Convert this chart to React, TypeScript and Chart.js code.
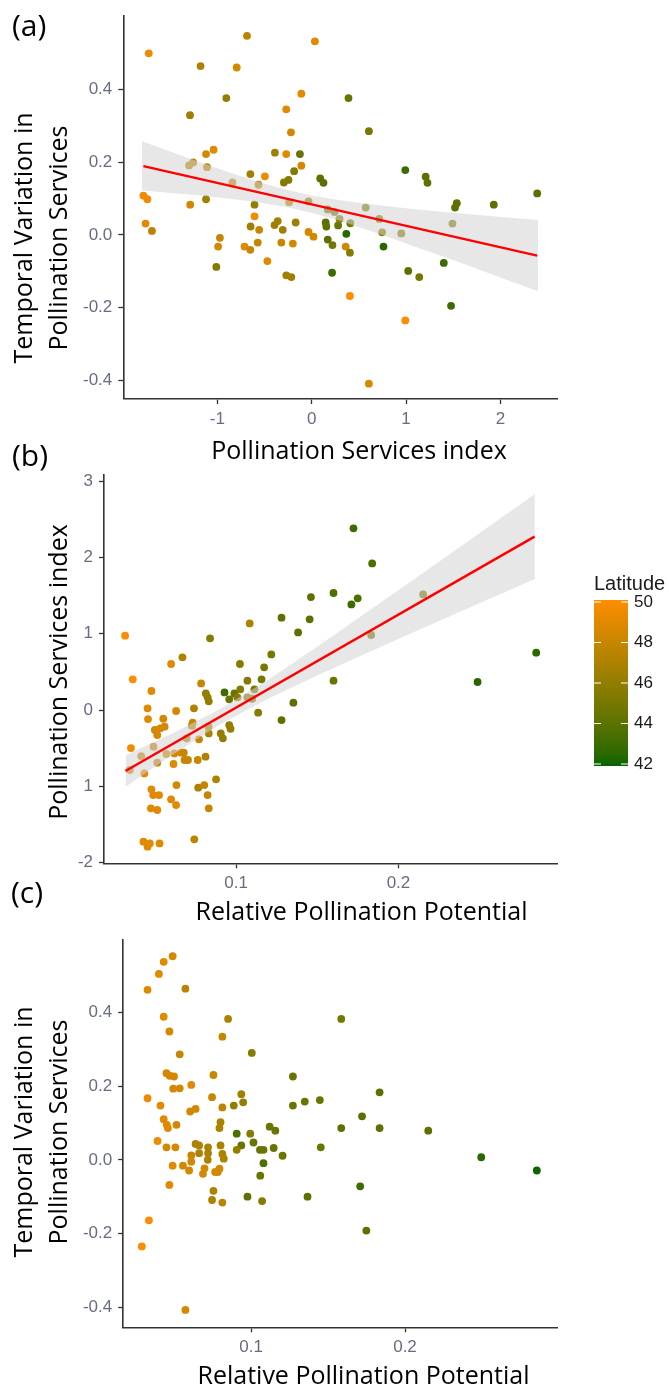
import React, { useEffect, useRef } from "react";
import { Chart, registerables } from "chart.js";

Chart.register(...registerables);

const PAGE_W = 669;
const PAGE_H = 1387;

// ---------------- Panel (a): Pollination Services index vs Temporal Variation ----------------
const aPSI = [
  -1.727, -0.686, 0.034, -1.178, -0.795, -0.905, -0.11, 0.39, -1.29, -0.27,
  -0.22, 0.606, -1.12, -1.04, -0.39, -0.27, -0.125, 0.992, 1.208, 1.227,
  -1.3, -1.257, -1.11, -0.11, -0.186, -0.65, -0.496, -0.84, -0.564, -0.295,
  -0.246, 0.09, 0.125, 2.39, 1.538, 1.519, 1.93, -1.784, -1.742, -1.12,
  -1.288, -0.606, -0.239, -0.034, 0.572, -0.606, 0.17, 0.242, -1.761, -1.693,
  -0.648, -0.557, -0.394, -0.36, -0.307, -0.17, 0.148, 0.155, 0.28, 0.295,
  0.367, 0.409, 0.716, 0.746, 0.95, 1.492, -0.034, 0.019, -0.973, -0.992,
  -0.712, -0.651, -0.572, -0.322, -0.2, 0.17, 0.22, 0.36, 0.405, 0.761,
  -0.47, -1.011, -0.269, -0.216, 0.216, 1.023, 1.14, 1.4, 0.405, 1.477,
  0.992, 0.606,
];
const aTV = [
  0.499, 0.547, 0.532, 0.464, 0.46, 0.376, 0.388, 0.376, 0.329, 0.345,
  0.282, 0.285, 0.222, 0.234, 0.226, 0.222, 0.222, 0.178, 0.16, 0.143,
  0.191, 0.199, 0.186, 0.19, 0.175, 0.167, 0.161, 0.144, 0.138, 0.144,
  0.151, 0.155, 0.143, 0.114, 0.087, 0.075, 0.083, 0.108, 0.098, 0.098,
  0.083, 0.083, 0.09, 0.092, 0.075, 0.051, 0.07, 0.063, 0.031, 0.011,
  0.023, 0.014, 0.027, 0.038, 0.014, 0.034, 0.034, 0.023, 0.026, 0.044,
  0.003, 0.032, 0.044, 0.007, 0.004, 0.031, 0.008, -0.005, -0.008, -0.032,
  -0.032, -0.041, -0.021, -0.021, -0.024, -0.013, -0.028, -0.032, -0.049, -0.032,
  -0.072, -0.088, -0.111, -0.116, -0.104, -0.099, -0.116, -0.077, -0.168, -0.195,
  -0.235, -0.409,
];
const aLat = [
  49.5, 47.5, 49, 47, 48.5, 46, 49, 44.5, 46.5, 49,
  48.5, 45, 48.5, 49, 46.5, 49, 44.5, 43, 44, 44,
  47.5, 47.5, 47.5, 48.5, 45.5, 46.5, 49.5, 48, 47.5, 45.5,
  45.5, 44, 44, 44, 44, 44, 44, 49.5, 49.5, 46.5,
  48.5, 46, 47.5, 46, 45.5, 49.5, 45, 45, 49, 47.5,
  46.5, 48, 46.5, 46.5, 46.5, 46.5, 44, 44, 44.5, 45.5,
  42.5, 45, 45.5, 45.5, 45.5, 45.5, 48.5, 48.5, 48, 48.5,
  49, 48, 48, 48, 48.5, 44, 45, 48.5, 45.5, 42.5,
  49, 45.5, 46.5, 46.5, 43, 44, 45, 43, 50, 43,
  50, 48.5,
];
const aFitX = [-1.784, 2.39];
const aFitY = [0.189, -0.057];
const aBandX = [-1.8, -1.5, -1.2, -0.9, -0.6, -0.3, 0, 0.3, 0.6, 0.9, 1.2, 1.5, 1.8, 2.1, 2.4];
const aBandHi = [0.257, 0.229, 0.201, 0.174, 0.149, 0.126, 0.108, 0.095, 0.085, 0.076, 0.068, 0.061, 0.054, 0.047, 0.041];
const aBandLo = [0.123, 0.115, 0.109, 0.1, 0.091, 0.078, 0.061, 0.039, 0.013, -0.014, -0.042, -0.069, -0.098, -0.127, -0.155];
const aXTicks = [-1, 0, 1, 2];
const aYTicks = [-0.4, -0.2, 0, 0.2, 0.4];

// ---------------- Panel (b): Relative Pollination Potential vs Pollination Services index ----------------
const bRPP = [
  0.0317, 0.0364, 0.0353, 0.0346, 0.0416, 0.0435, 0.0455, 0.0458, 0.0479, 0.0492,
  0.05, 0.0515, 0.0534, 0.0552, 0.056, 0.0515, 0.0479, 0.049, 0.0526, 0.0476,
  0.0515, 0.043, 0.0455, 0.0469, 0.0529, 0.06, 0.0631, 0.0633, 0.0615, 0.0571,
  0.06, 0.0631, 0.067, 0.062, 0.0662, 0.0678, 0.0683, 0.0704, 0.0696, 0.0728,
  0.0733, 0.0741, 0.0743, 0.0764, 0.0772, 0.0767, 0.0785, 0.0804, 0.0812, 0.0814,
  0.0825, 0.0832, 0.0825, 0.0832, 0.0832, 0.083, 0.084, 0.0877, 0.0906, 0.0919,
  0.0929, 0.0958, 0.0958, 0.0966, 0.099, 0.1008, 0.1024, 0.1026, 0.107, 0.1084,
  0.107, 0.1099, 0.1113, 0.1136, 0.1157, 0.1173, 0.1217, 0.128, 0.128, 0.1353,
  0.1382, 0.1453, 0.1461, 0.16, 0.16, 0.171, 0.1749, 0.1723, 0.1838, 0.1832,
  0.2152, 0.2487, 0.2848,
];
const bPSI = [
  0.974, 0.402, -0.498, -0.786, -0.603, -0.83, 0.022, -0.118, 0.249, -0.48,
  -0.262, -0.328, -0.24, -0.114, -0.218, -0.69, -1.039, -1.114, -1.114, -1.288,
  -1.31, -1.725, -1.79, -1.747, -1.747, -1.17, -1.245, -0.983, -0.707, -0.576,
  0.603, -0.013, 0.69, -0.568, -0.559, -0.559, -0.655, -0.655, -0.371, -0.205,
  -0.166, 0.022, -1.694, -0.655, -0.384, -1.017, 0.349, -0.983, -0.611, 0.218,
  0.166, 0.114, -1.114, -1.288, -0.306, -0.218, 0.939, -0.908, -0.306, -0.371,
  0.231, 0.14, -0.197, -0.245, 0.218, 0.166, 0.603, 0.271, 0.384, 1.135,
  0.166, 0.148, 0.271, -0.035, 0.402, 0.559, 0.729, 1.21, -0.131, 0.096,
  1.017, 1.188, 1.48, 1.533, 0.384, 1.384, 1.463, 2.38, 1.921, 0.983,
  1.515, 0.367, 0.751,
];
const bLat = [
  50, 50, 49.5, 48, 48, 49, 49, 49, 49, 48,
  48.5, 48.5, 48.5, 48.5, 48.5, 48, 49, 49, 49, 49,
  49, 49, 49, 49, 49, 49, 49, 48.5, 49, 48.5,
  49, 48.5, 47, 48.5, 48.5, 48, 48, 48, 47.5, 47.5,
  48, 47, 47.5, 48, 48, 47, 48, 48, 47, 46,
  46, 46, 48, 48, 47, 47, 45.5, 47, 46, 46,
  43, 44.5, 46, 46, 44.5, 45.5, 45.5, 45.5, 45.5, 47,
  45.5, 45.5, 45, 45.5, 45, 45, 45, 44, 44, 44,
  44, 44, 44, 43.5, 44.5, 43, 43.5, 43, 43.5, 45,
  45, 42.5, 42.5,
];
const bFitX = [0.0319, 0.2838];
const bFitY = [-0.799, 2.271];
const bBandX = [0.032, 0.06, 0.09, 0.12, 0.15, 0.18, 0.21, 0.24, 0.284];
const bBandHi = [-0.591, -0.314, 0.011, 0.399, 0.83, 1.273, 1.72, 2.17, 2.83];
const bBandLo = [-1.005, -0.598, -0.191, 0.151, 0.452, 0.741, 1.024, 1.306, 1.718];
const bXTicks = [0.1, 0.2];
const bYTicks = [-2, -1, 0, 1, 2, 3];

// ---------------- Panel (c): Relative Pollination Potential vs Temporal Variation ----------------
const cRPP = [
  0.0491, 0.0433, 0.0402, 0.0328, 0.0574, 0.0433, 0.0851, 0.1586, 0.047, 0.0814,
  0.0537, 0.1005, 0.0451, 0.0472, 0.05, 0.0756, 0.1272, 0.0328, 0.0612, 0.0495,
  0.0537, 0.0747, 0.0937, 0.1835, 0.0412, 0.0814, 0.0888, 0.0949, 0.1272, 0.1349,
  0.1447, 0.0605, 0.064, 0.0433, 0.0453, 0.0516, 0.046, 0.0802, 0.0795, 0.1721,
  0.1586, 0.1835, 0.2151, 0.1121, 0.1158, 0.0907, 0.0995, 0.0393, 0.0451, 0.0509,
  0.064, 0.0663, 0.0721, 0.0802, 0.0937, 0.1016, 0.1453, 0.1147, 0.1058, 0.1081,
  0.0907, 0.0612, 0.0663, 0.0721, 0.0814, 0.0823, 0.0719, 0.0612, 0.1205, 0.1081,
  0.0491, 0.0558, 0.0598, 0.0698, 0.0688, 0.0767, 0.0795, 0.0784, 0.106, 0.047,
  0.2495, 0.2856, 0.1709, 0.0756, 0.0747, 0.0814, 0.0977, 0.1072, 0.1367, 0.1749,
  0.0337, 0.0291, 0.0574,
];
const cTV = [
  0.552, 0.537, 0.504, 0.461, 0.464, 0.388, 0.382, 0.382, 0.348, 0.334,
  0.286, 0.29, 0.235, 0.228, 0.226, 0.23, 0.226, 0.167, 0.203, 0.193,
  0.194, 0.17, 0.178, 0.183, 0.147, 0.142, 0.147, 0.156, 0.147, 0.158,
  0.162, 0.131, 0.138, 0.11, 0.095, 0.095, 0.086, 0.102, 0.086, 0.118,
  0.086, 0.086, 0.079, 0.09, 0.079, 0.071, 0.071, 0.051, 0.034, 0.034,
  0.043, 0.039, 0.034, 0.039, 0.039, 0.047, 0.034, 0.032, 0.027, 0.027,
  0.027, 0.012, 0.018, 0.018, 0.016, 0.003, 0.0, -0.005, 0.011, -0.009,
  -0.016, -0.016, -0.029, -0.023, -0.038, -0.033, -0.024, -0.033, -0.043, -0.068,
  0.007, -0.029, -0.072, -0.084, -0.109, -0.116, -0.1, -0.112, -0.1, -0.192,
  -0.164, -0.235, -0.407,
];
const cLat = [
  48.5, 49, 49, 49, 47.5, 49, 47, 45, 48.5, 48,
  48, 45.5, 48.5, 48.5, 48.5, 48, 44.5, 49.5, 49, 48.5,
  48.5, 48, 46.5, 44, 49, 47.5, 46, 46, 44.5, 44.5,
  44.5, 48.5, 48.5, 49, 49, 48.5, 49, 47, 47, 44,
  44, 44, 44, 44.5, 44.5, 43.5, 45.5, 49.5, 48.5, 48.5,
  47, 47, 47, 47, 44.5, 44.5, 44.5, 44.5, 44.5, 44.5,
  46, 48, 47, 47, 47, 47, 47, 48.5, 44.5, 43.5,
  49, 48.5, 48.5, 48.5, 48.5, 48.5, 48.5, 48.5, 44.5, 49,
  42.5, 42, 43, 47, 47, 47.5, 44, 45.5, 44, 44,
  50, 50, 48.5,
];
const cXTicks = [0.1, 0.2];
const cYTicks = [-0.4, -0.2, 0, 0.2, 0.4];

// ---------------- Legend ----------------
const legendTitle = "Latitude";
const legendTicks = [42, 44, 46, 48, 50];
const LAT_MIN = 41.9;
const LAT_MAX = 50.1;

// ---------------- colours ----------------
const LOW_RGB = [0, 100, 0]; // darkgreen
const HIGH_RGB = [255, 140, 0]; // darkorange
const TICK_COLOR = "#676d80";
const AXIS_COLOR = "#333333";
const BAND_FILL = "rgba(212,212,212,0.55)";

function toLin(c: number) {
  const v = c / 255;
  return v <= 0.04045 ? v / 12.92 : Math.pow((v + 0.055) / 1.055, 2.4);
}
function fromLin(v: number) {
  const s = v <= 0.0031308 ? 12.92 * v : 1.055 * Math.pow(v, 1 / 2.4) - 0.055;
  return Math.round(Math.max(0, Math.min(1, s)) * 255);
}
const XN = 0.95047, YN = 1, ZN = 1.08883;
function toLab(rgb: number[]) {
  const [R, G, B] = rgb.map(toLin);
  const X = 0.4124 * R + 0.3576 * G + 0.1805 * B;
  const Y = 0.2126 * R + 0.7152 * G + 0.0722 * B;
  const Z = 0.0193 * R + 0.1192 * G + 0.9505 * B;
  const f = (t: number) => (t > 0.008856 ? Math.cbrt(t) : 7.787 * t + 16 / 116);
  const fx = f(X / XN), fy = f(Y / YN), fz = f(Z / ZN);
  return [116 * fy - 16, 500 * (fx - fy), 200 * (fy - fz)];
}
function fromLab(lab: number[]) {
  const [L, a, b] = lab;
  const fy = (L + 16) / 116;
  const fx = fy + a / 500;
  const fz = fy - b / 200;
  const inv = (t: number) => (t * t * t > 0.008856 ? t * t * t : (t - 16 / 116) / 7.787);
  const X = XN * inv(fx), Y = YN * inv(fy), Z = ZN * inv(fz);
  const R = 3.2406 * X - 1.5372 * Y - 0.4986 * Z;
  const G = -0.9689 * X + 1.8758 * Y + 0.0415 * Z;
  const B = 0.0557 * X - 0.204 * Y + 1.057 * Z;
  return [fromLin(R), fromLin(G), fromLin(B)];
}
const LAB_LOW = toLab(LOW_RGB);
const LAB_HIGH = toLab(HIGH_RGB);
function latColor(lat: number) {
  const t = Math.max(0, Math.min(1, (lat - LAT_MIN) / (LAT_MAX - LAT_MIN)));
  const lab = LAB_LOW.map((v, i) => v + (LAB_HIGH[i] - v) * t);
  const [r, g, b] = fromLab(lab);
  return `rgb(${r},${g},${b})`;
}

// ---------------- helpers ----------------
type TextItem = { t: string; x: number; y: number; font: string; align?: CanvasTextAlign; rot?: boolean; color?: string };
const TITLE_FONT = '25px "Open Sans", "Noto Sans", sans-serif';
const LABEL_FONT = '30px "Open Sans", "Noto Sans", sans-serif';

function drawTexts(ctx: CanvasRenderingContext2D, items: TextItem[]) {
  items.forEach((it) => {
    ctx.save();
    ctx.font = it.font;
    ctx.fillStyle = it.color || "#000";
    ctx.textAlign = it.align || "center";
    ctx.textBaseline = "alphabetic";
    ctx.translate(it.x, it.y);
    if (it.rot) ctx.rotate(-Math.PI / 2);
    ctx.fillText(it.t, 0, 0);
    ctx.restore();
  });
}

function scatterSet(xs: number[], ys: number[], lats: number[]) {
  const cols = lats.map(latColor);
  return {
    type: "scatter",
    data: xs.map((x, i) => ({ x, y: ys[i] })),
    backgroundColor: cols,
    borderColor: cols,
    borderWidth: 0,
    pointRadius: 3.9,
    order: 3,
  };
}
function bandSets(xs: number[], hi: number[], lo: number[]) {
  return [
    {
      type: "line",
      data: xs.map((x, i) => ({ x, y: hi[i] })),
      borderColor: "rgba(0,0,0,0)",
      borderWidth: 0,
      pointRadius: 0,
      showLine: true,
      fill: "+1",
      backgroundColor: BAND_FILL,
      order: 2,
    },
    {
      type: "line",
      data: xs.map((x, i) => ({ x, y: lo[i] })),
      borderColor: "rgba(0,0,0,0)",
      borderWidth: 0,
      pointRadius: 0,
      showLine: true,
      fill: false,
      order: 2,
    },
  ];
}
function fitSet(xs: number[], ys: number[]) {
  return {
    type: "line",
    data: xs.map((x, i) => ({ x, y: ys[i] })),
    borderColor: "#FF0000",
    borderWidth: 2.5,
    pointRadius: 0,
    showLine: true,
    fill: false,
    order: 1,
  };
}

type Spec = {
  area: { l: number; r: number; t: number; b: number };
  xMin: number; xMax: number; yMin: number; yMax: number;
  xTicks: number[]; yTicks: number[];
  xFmt: (v: number) => string; yFmt: (v: number) => string;
  datasets: any[];
  texts: TextItem[];
  extra?: (ctx: CanvasRenderingContext2D) => void;
};

const X_AXIS_H = 40;
const tickFont = { family: '"Liberation Sans", Arial, sans-serif', size: 17 };

function makeChart(canvas: HTMLCanvasElement, s: Spec) {
  const gridOpts = {
    display: true,
    drawOnChartArea: false,
    drawTicks: true,
    tickLength: 5,
    tickColor: AXIS_COLOR,
    tickWidth: 1.3,
  };
  const borderOpts = { display: true, color: AXIS_COLOR, width: 1.6 };
  return new Chart(canvas, {
    type: "scatter",
    data: { datasets: s.datasets },
    options: {
      animation: false,
      responsive: false,
      events: [],
      layout: {
        padding: { left: 0, top: s.area.t, right: PAGE_W - s.area.r, bottom: PAGE_H - s.area.b - X_AXIS_H },
      },
      plugins: { legend: { display: false }, tooltip: { enabled: false } },
      scales: {
        x: {
          type: "linear",
          position: "bottom",
          min: s.xMin,
          max: s.xMax,
          afterBuildTicks: (sc: any) => { sc.ticks = s.xTicks.map((v) => ({ value: v })); },
          afterFit: (sc: any) => { sc.height = X_AXIS_H; },
          grid: gridOpts,
          border: borderOpts,
          ticks: { font: tickFont, color: TICK_COLOR, padding: 5, autoSkip: false, maxRotation: 0, callback: (v: any) => s.xFmt(Number(v)) },
        },
        y: {
          type: "linear",
          position: "left",
          min: s.yMin,
          max: s.yMax,
          afterBuildTicks: (sc: any) => { sc.ticks = s.yTicks.map((v) => ({ value: v })); },
          afterFit: (sc: any) => { sc.width = s.area.l; },
          grid: gridOpts,
          border: borderOpts,
          ticks: { font: tickFont, color: TICK_COLOR, padding: 6, autoSkip: false, callback: (v: any) => s.yFmt(Number(v)) },
        },
      },
    } as any,
    plugins: [
      {
        id: "pageTexts",
        afterDraw: (chart: any) => {
          drawTexts(chart.ctx, s.texts);
          if (s.extra) s.extra(chart.ctx);
        },
      },
    ],
  } as any);
}

function drawLegend(ctx: CanvasRenderingContext2D) {
  const x0 = 594, x1 = 628, y0 = 600, y1 = 766;
  const yOf = (v: number) => y0 + ((LAT_MAX - v) / (LAT_MAX - LAT_MIN)) * (y1 - y0);
  for (let y = y0; y < y1; y++) {
    const lat = LAT_MAX - ((y + 0.5 - y0) / (y1 - y0)) * (LAT_MAX - LAT_MIN);
    ctx.fillStyle = latColor(lat);
    ctx.fillRect(x0, y, x1 - x0, 1);
  }
  ctx.save();
  ctx.strokeStyle = "#ffffff";
  ctx.lineWidth = 1.2;
  ctx.font = '17px "Liberation Sans", Arial, sans-serif';
  ctx.fillStyle = "#1a1a1a";
  ctx.textAlign = "left";
  ctx.textBaseline = "middle";
  legendTicks.forEach((v) => {
    const y = yOf(v);
    ctx.beginPath();
    ctx.moveTo(x0, y); ctx.lineTo(x0 + 7, y);
    ctx.moveTo(x1 - 7, y); ctx.lineTo(x1, y);
    ctx.stroke();
    ctx.fillText(String(v), 634, y);
  });
  ctx.font = '20px "Liberation Sans", Arial, sans-serif';
  ctx.textBaseline = "alphabetic";
  ctx.fillText(legendTitle, 594, 590);
  ctx.restore();
}

const fmt1 = (v: number) => v.toFixed(1);

const specA: Spec = {
  area: { l: 123.3, r: 557, t: 9.5, b: 399 },
  xMin: -1.997, xMax: 2.6, yMin: -0.451, yMax: 0.601,
  xTicks: aXTicks, yTicks: aYTicks,
  xFmt: (v) => String(v), yFmt: fmt1,
  datasets: [scatterSet(aPSI, aTV, aLat), ...bandSets(aBandX, aBandHi, aBandLo), fitSet(aFitX, aFitY)],
  texts: [
    { t: "(a)", x: 12, y: 36, font: LABEL_FONT, align: "left" },
    { t: "Pollination Services index", x: 359, y: 459, font: TITLE_FONT },
    { t: "Temporal Variation in", x: 32, y: 238, font: TITLE_FONT, rot: true },
    { t: "Pollination Services", x: 67, y: 238, font: TITLE_FONT, rot: true },
  ],
};

const specB: Spec = {
  area: { l: 104, r: 557, t: 475, b: 863.3 },
  xMin: 0.0187, xMax: 0.2976, yMin: -2.008, yMax: 3.079,
  xTicks: bXTicks, yTicks: bYTicks,
  xFmt: fmt1, yFmt: (v) => (v === -1 ? "1" : String(v)),
  datasets: [scatterSet(bRPP, bPSI, bLat), ...bandSets(bBandX, bBandHi, bBandLo), fitSet(bFitX, bFitY)],
  texts: [
    { t: "(b)", x: 12, y: 466, font: LABEL_FONT, align: "left" },
    { t: "Relative Pollination Potential", x: 361.5, y: 920, font: TITLE_FONT },
    { t: "Pollination Services index", x: 67, y: 672, font: TITLE_FONT, rot: true },
  ],
  extra: drawLegend,
};

const specC: Spec = {
  area: { l: 123.2, r: 557, t: 939.3, b: 1327.3 },
  xMin: 0.017, xMax: 0.2987, yMin: -0.4542, yMax: 0.598,
  xTicks: cXTicks, yTicks: cYTicks,
  xFmt: fmt1, yFmt: fmt1,
  datasets: [scatterSet(cRPP, cTV, cLat)],
  texts: [
    { t: "(c)", x: 11, y: 903, font: LABEL_FONT, align: "left" },
    { t: "Relative Pollination Potential", x: 363.5, y: 1384, font: TITLE_FONT },
    { t: "Temporal Variation in", x: 32, y: 1132, font: TITLE_FONT, rot: true },
    { t: "Pollination Services", x: 67, y: 1132, font: TITLE_FONT, rot: true },
  ],
};

export default function App() {
  const ra = useRef<HTMLCanvasElement>(null);
  const rb = useRef<HTMLCanvasElement>(null);
  const rc = useRef<HTMLCanvasElement>(null);

  useEffect(() => {
    const charts = [
      makeChart(ra.current as HTMLCanvasElement, specA),
      makeChart(rb.current as HTMLCanvasElement, specB),
      makeChart(rc.current as HTMLCanvasElement, specC),
    ];
    return () => charts.forEach((c) => c.destroy());
  }, []);

  const cs: React.CSSProperties = { position: "absolute", left: 0, top: 0, width: PAGE_W, height: PAGE_H };
  return (
    <div style={{ position: "absolute", left: 0, top: 0, width: PAGE_W, height: PAGE_H, background: "#ffffff", overflow: "hidden" }}>
      <canvas ref={ra} width={PAGE_W} height={PAGE_H} style={cs} />
      <canvas ref={rb} width={PAGE_W} height={PAGE_H} style={cs} />
      <canvas ref={rc} width={PAGE_W} height={PAGE_H} style={cs} />
    </div>
  );
}
